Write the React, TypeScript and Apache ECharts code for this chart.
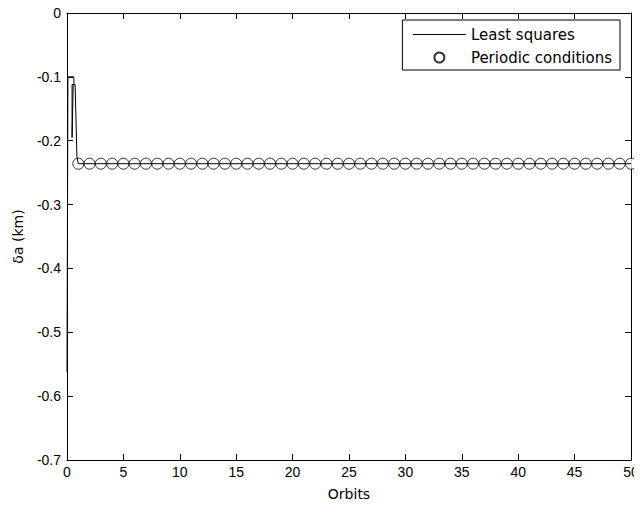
import React, { useEffect, useRef } from "react";
import * as echarts from "echarts";

// Least squares curve (orbit, δa km)
const lsqX = [0, 0.08, 0.6, 0.62, 0.45, 0.45, 0.5, 0.55, 0.72, 0.88, 1.0, 50];
const lsqY = [-0.562, -0.1, -0.1, -0.112, -0.112, -0.195, -0.195, -0.112, -0.112, -0.225, -0.236, -0.236];
// Periodic conditions (one point per orbit)
const orbits = Array.from({ length: 50 }, (_, i) => i + 1);
const periodicY = orbits.map(() => -0.236);
// Axis ranges / tick steps
const xRange = [0, 50];
const xStep = 5;
const yRange = [-0.7, 0];
const yStep = 0.1;

const FONT = "Liberation Sans, Arial, sans-serif";
const TEXTFONT = "DejaVu Sans, Liberation Sans, sans-serif";

function axisCommon() {
  return {
    axisLine: { show: true, onZero: false, lineStyle: { color: "#000", width: 1 } },
    axisTick: { show: true, inside: true, length: 6, lineStyle: { color: "#000", width: 1 } },
    splitLine: { show: false },
  };
}

export default function App() {
  const ref = useRef<HTMLDivElement>(null);
  useEffect(() => {
    if (!ref.current) return;
    const chart = echarts.init(ref.current, null, { renderer: "svg" });
    try {
      chart.setOption({
        animation: false,
        backgroundColor: "#fff",
        textStyle: { fontFamily: FONT },
        grid: { left: 67, right: 11, top: 13, bottom: 48 },
        legend: {
          orient: "vertical",
          right: 22,
          top: 20,
          backgroundColor: "#fff",
          borderColor: "#000",
          borderWidth: 1,
          borderRadius: 0,
          padding: [7, 8, 5, 10],
          itemWidth: 53,
          itemHeight: 10,
          itemGap: 8,
          textStyle: { fontFamily: TEXTFONT, fontSize: 15, color: "#000" },
          data: [
            { name: "Least squares", itemStyle: { opacity: 0 }, lineStyle: { width: 1, color: "#000" } },
            "Periodic conditions",
          ],
        },
        xAxis: [
          {
            type: "value",
            min: xRange[0],
            max: xRange[1],
            interval: xStep,
            name: "Orbits",
            nameLocation: "middle",
            nameGap: 27,
            nameTextStyle: { fontFamily: TEXTFONT, fontSize: 14, color: "#000" },
            axisLabel: { color: "#000", fontSize: 14, fontFamily: FONT, margin: 5 },
            ...axisCommon(),
          },
          {
            type: "value",
            position: "top",
            min: xRange[0],
            max: xRange[1],
            interval: xStep,
            axisLabel: { show: false },
            ...axisCommon(),
          },
        ],
        yAxis: [
          {
            type: "value",
            min: yRange[0],
            max: yRange[1],
            interval: yStep,
            name: "δa (km)",
            nameLocation: "middle",
            nameGap: 42,
            nameTextStyle: { fontFamily: TEXTFONT, fontSize: 14, color: "#000" },
            axisLabel: {
              color: "#000",
              fontSize: 14,
              fontFamily: FONT,
              margin: 6,
              formatter: (v: number) => String(Number(Number(v).toFixed(1))),
            },
            ...axisCommon(),
          },
          {
            type: "value",
            position: "right",
            min: yRange[0],
            max: yRange[1],
            interval: yStep,
            axisLabel: { show: false },
            ...axisCommon(),
          },
        ],
        series: [
          {
            name: "Periodic conditions",
            type: "scatter",
            xAxisIndex: 0,
            yAxisIndex: 0,
            data: orbits.map((x, i) => [x, periodicY[i]]),
            symbol: "circle",
            symbolSize: 11,
            itemStyle: { color: "#fff", borderColor: "#000", borderWidth: 1 },
            z: 2,
          },
          {
            name: "Least squares",
            type: "line",
            xAxisIndex: 0,
            yAxisIndex: 0,
            data: lsqX.map((x, i) => [x, lsqY[i]]),
            symbol: "none",
            lineStyle: { color: "#000", width: 1 },
            itemStyle: { color: "#000" },
            z: 3,
          },
        ],
      });
    } catch (e) {
      console.error(String(e));
    }
    return () => chart.dispose();
  }, []);
  return <div ref={ref} style={{ width: 642, height: 508, margin: -8 }} />;
}
